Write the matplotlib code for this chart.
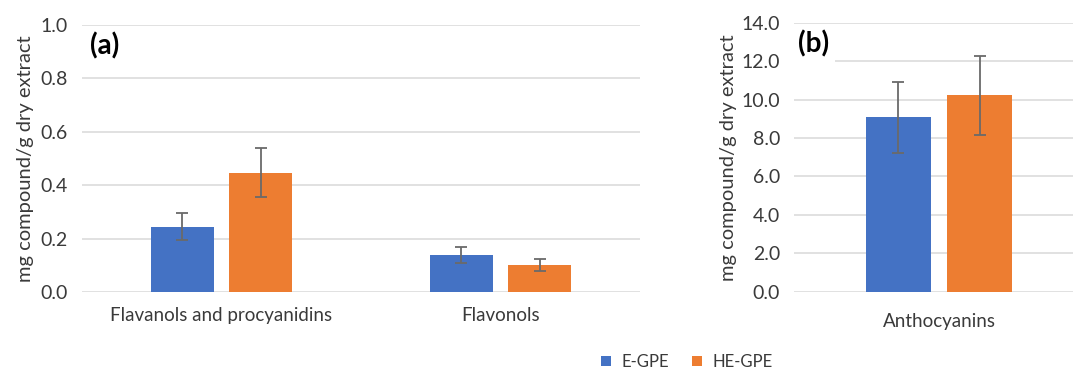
import matplotlib
matplotlib.use("Agg")
import matplotlib.pyplot as plt
import numpy as np
from matplotlib.patches import Patch

plt.rcParams['font.family'] = ['Lato', 'DejaVu Sans']

series = ["E-GPE", "HE-GPE"]
colors = ["#4472C4", "#ED7D31"]

# Panel (a): flavanols and flavonols
cats_a = ["Flavanols and procyanidins", "Flavonols"]
egpe_a = [0.245, 0.140]
hegpe_a = [0.447, 0.102]
egpe_a_err = [0.050, 0.030]
hegpe_a_err = [0.092, 0.022]

# Panel (b): anthocyanins
cats_b = ["Anthocyanins"]
egpe_b = [9.08]
hegpe_b = [10.22]
egpe_b_err = [1.84]
hegpe_b_err = [2.04]

W, H = 1073, 369
fig = plt.figure(figsize=(W / 100, H / 100), dpi=100)

grid_c = "#d9d9d9"
text_c = "#3a3a3a"
err_c = "#6a6a6a"
bw = 0.225
off = 0.14


def panel(rect, cats, v1, v2, e1, e2, ymax, step, fmt, tag, xr, xpad, lpad):
    ax = fig.add_axes(rect)
    x = np.arange(len(cats))
    for vals, errs, c, sgn in ((v1, e1, colors[0], -1), (v2, e2, colors[1], 1)):
        ax.bar(x + sgn * off, vals, width=bw, color=c, zorder=3)
        ax.errorbar(x + sgn * off, vals, yerr=errs, fmt="none", ecolor=err_c,
                    elinewidth=1.3, capsize=4, capthick=1.3, zorder=4)
    ax.set_ylim(0, ymax)
    ax.set_xlim(-0.5, xr)
    ticks = np.arange(0, ymax + step / 2, step)
    ax.set_yticks(ticks)
    ax.set_yticklabels([fmt.format(t) for t in ticks], fontsize=14, color=text_c)
    ax.set_xticks(x)
    ax.set_xticklabels(cats, fontsize=13.5, color=text_c)
    ax.tick_params(length=0)
    ax.tick_params(axis="x", pad=xpad)
    ax.tick_params(axis="y", pad=10)
    ax.grid(axis="y", color=grid_c, lw=1.1, zorder=0)
    for s in ax.spines.values():
        s.set_visible(False)
    ax.set_ylabel("mg compound/g dry extract", fontsize=14.5, color=text_c, labelpad=lpad)
    ax.text(0.015, 0.92, tag, transform=ax.transAxes, fontsize=20, fontweight="bold",
            color="black", va="center", ha="left", zorder=5,
            bbox=dict(facecolor="white", edgecolor="none", pad=4))
    return ax


panel([82 / W, 1 - 292 / H, 558 / W, 267 / H], cats_a, egpe_a, hegpe_a,
      egpe_a_err, hegpe_a_err, 1.0, 0.2, "{:.1f}", "(a)", 1.5, 11, 5)
panel([794 / W, 1 - 291.7 / H, 279 / W, 269 / H], cats_b, egpe_b, hegpe_b,
      egpe_b_err, hegpe_b_err, 14.0, 2.0, "{:.1f}", "(b)", 0.462, 15, 3)

handles = [Patch(facecolor=c, edgecolor="none") for c in colors]
fig.legend(handles, series, loc="center", bbox_to_anchor=(687 / W, 1 - 362 / H),
           ncol=2, frameon=False, fontsize=12, handlelength=0.6, handleheight=0.6,
           handletextpad=0.6, columnspacing=1.4, labelcolor=text_c)

fig.savefig("out.png", dpi=100)
